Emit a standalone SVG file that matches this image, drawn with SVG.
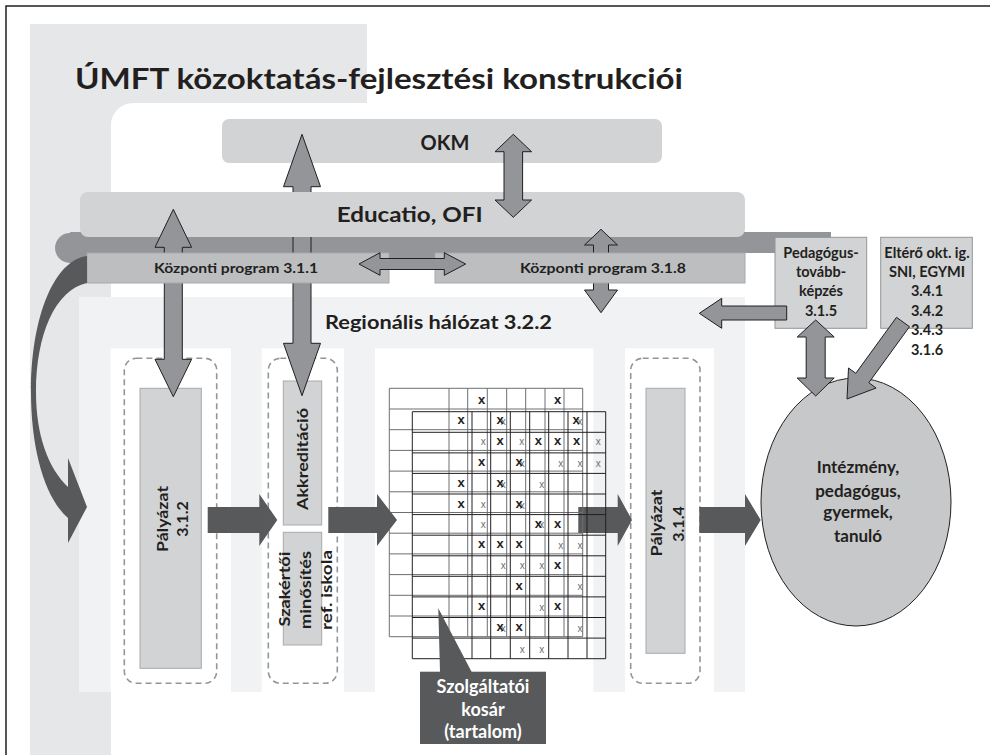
<svg xmlns="http://www.w3.org/2000/svg" width="990" height="755" viewBox="0 0 990 755">
<style>
.t{font-family:Lato,"Open Sans","DejaVu Sans",sans-serif;font-weight:bold;fill:#231f20}
.w{fill:#ffffff}
.ga{fill:#939598;stroke:#231f20;stroke-width:1;stroke-linejoin:miter}
.da{fill:#58595b}
.dash{fill:none;stroke:#939598;stroke-width:1.6;stroke-dasharray:6 4}
.inner{fill:#d1d3d4;stroke:#a7a9ac;stroke-width:1}
.kp{fill:#bcbec0;stroke:#a7a9ac;stroke-width:1}
.bx{fill:#d1d3d4;stroke:#939598;stroke-width:1}
.gb{fill:none;stroke:#6d6e71;stroke-width:1}
.gf{fill:none;stroke:#231f20;stroke-width:1}
.xb{font-family:"Liberation Sans",Arial,sans-serif;font-weight:bold;font-size:13px;fill:#231f20;text-anchor:middle}
.xt{font-family:"Liberation Sans",Arial,sans-serif;font-size:10px;fill:#6d6e71;text-anchor:middle}
</style>
<rect width="990" height="755" fill="#ffffff"/>
<g id="background">
<path d="M6,755V6H990" fill="none" stroke="#231f20" stroke-width="1.5"/>
<path d="M30,24H367V103H133A22,22 0 0 0 111,125V755H30Z" fill="#e6e7e8"/>
<rect x="79" y="297" width="666" height="395" fill="#f1f2f3"/>
<rect x="110.7" y="348.3" width="120.3" height="343.7" fill="#ffffff"/>
<rect x="261.7" y="348.3" width="82.3" height="343.7" fill="#ffffff"/>
<rect x="375" y="348.3" width="218.3" height="343.7" fill="#ffffff"/>
<rect x="625" y="348.3" width="89" height="343.7" fill="#ffffff"/>
</g>
<text class="t" x="75" y="89" font-size="29" textLength="608" lengthAdjust="spacingAndGlyphs">ÚMFT közoktatás-fejlesztési konstrukciói</text>
<g id="okm">
<rect x="222" y="119" width="440" height="44" rx="7" fill="#d1d3d4"/>
<text class="t" x="445" y="150" font-size="20" text-anchor="middle">OKM</text>
</g>
<g id="bar">
<rect x="70" y="232" width="675" height="38" fill="#939598"/>
<rect x="744" y="232" width="87" height="21" fill="#939598"/>
<circle cx="70" cy="248" r="15" fill="#939598"/>
</g>
<g id="palyazat312">
<rect class="dash" x="124.3" y="358.3" width="92.4" height="325" rx="12"/>
<rect class="inner" x="140" y="388.3" width="61.3" height="280"/>
<text class="t" font-size="16" text-anchor="middle" transform="translate(168.3,519) rotate(-90)" textLength="66" lengthAdjust="spacingAndGlyphs">Pályázat</text>
<text class="t" font-size="16" text-anchor="middle" transform="translate(188.3,519) rotate(-90)">3.1.2</text>
</g>
<g id="akkreditacio">
<rect class="dash" x="268.3" y="358.3" width="69" height="325" rx="12"/>
<rect class="inner" x="283.3" y="381" width="38.4" height="144"/>
<text class="t" font-size="16" text-anchor="middle" transform="translate(308.3,459) rotate(-90)" textLength="102" lengthAdjust="spacingAndGlyphs">Akkreditáció</text>
<rect class="inner" x="283.3" y="532.3" width="38.4" height="112.7"/>
<text class="t" font-size="15" text-anchor="middle" transform="translate(290,589) rotate(-90)" textLength="75" lengthAdjust="spacingAndGlyphs">Szakértői</text>
<text class="t" font-size="15" text-anchor="middle" transform="translate(311,590) rotate(-90)" textLength="78" lengthAdjust="spacingAndGlyphs">minősítés</text>
<text class="t" font-size="15" text-anchor="middle" transform="translate(332,590) rotate(-90)" textLength="80" lengthAdjust="spacingAndGlyphs">ref. iskola</text>
</g>
<g id="palyazat314">
<rect class="dash" x="630.7" y="358.3" width="69.3" height="325" rx="12"/>
<rect class="inner" x="646" y="388.3" width="39" height="265"/>
<text class="t" font-size="16" text-anchor="middle" transform="translate(661.7,523) rotate(-90)" textLength="67" lengthAdjust="spacingAndGlyphs">Pályázat</text>
<text class="t" font-size="16" text-anchor="middle" transform="translate(684,524) rotate(-90)">3.1.4</text>
</g>
<g id="intezmeny">
<ellipse cx="856" cy="502" rx="95" ry="124" fill="#c7c8ca" stroke="#231f20" stroke-width="1"/>
<text class="t" font-size="17" text-anchor="middle"><tspan x="858" y="473.3">Intézmény,</tspan><tspan x="858" y="496.7">pedagógus,</tspan><tspan x="858" y="518.3">gyermek,</tspan><tspan x="858" y="541.7">tanuló</tspan></text>
</g>
<g id="connectors-lower">
<polygon class="ga" points="302,134.3 320.5,186.7 311,186.7 311,343.3 320.5,343.3 302,395.7 283.5,343.3 293,343.3 293,186.7 283.5,186.7"/>
</g>
<g id="educatio">
<rect x="80" y="192" width="665" height="45" rx="8" fill="#d1d3d4"/>
<text class="t" x="409.7" y="222" font-size="21" text-anchor="middle" textLength="146" lengthAdjust="spacingAndGlyphs">Educatio, OFI</text>
</g>
<g id="connectors">
<polygon class="ga" points="173.3,209.3 191.6,247.3 182.3,247.3 182.3,359.3 191.6,359.3 173.3,396.7 155,359.3 164.3,359.3 164.3,247.3 155,247.3"/>
<polygon class="ga" points="513.3,134.3 531.6,151.7 522.6,151.7 522.6,200 531.6,200 513.3,217.3 495,200 504,200 504,151.7 495,151.7"/>
<polygon class="ga" points="601,229.3 617.5,245 608.5,245 608.5,290 617.5,290 601,312.7 584.5,290 593.5,290 593.5,245 584.5,245"/>
</g>
<g id="kp311">
<rect class="kp" x="87" y="253" width="302" height="30"/>
<text class="t" x="236" y="273" font-size="14" text-anchor="middle" textLength="164" lengthAdjust="spacingAndGlyphs">Központi program 3.1.1</text>
</g>
<g id="kp318">
<rect class="kp" x="435" y="253" width="310" height="30"/>
<text class="t" x="603" y="273" font-size="14" text-anchor="middle" textLength="166" lengthAdjust="spacingAndGlyphs">Központi program 3.1.8</text>
</g>
<text class="t" x="325" y="329" font-size="18" textLength="227" lengthAdjust="spacingAndGlyphs">Regionális hálózat 3.2.2</text>
<g id="pedagogus">
<rect class="bx" x="775" y="237.3" width="91.7" height="91"/>
<text class="t" font-size="14.5" text-anchor="middle"><tspan x="821" y="258.3">Pedagógus-</tspan><tspan x="821" y="276.7">tovább-</tspan><tspan x="821" y="295.5">képzés</tspan><tspan x="821" y="315.7">3.1.5</tspan></text>
</g>
<g id="eltero">
<rect class="bx" x="880.7" y="237.3" width="91.6" height="91"/>
<text class="t" font-size="14.5" text-anchor="middle"><tspan x="927" y="258.3">Eltérő okt. ig.</tspan><tspan x="927" y="276.7">SNI, EGYMI</tspan><tspan x="927" y="295.7">3.4.1</tspan><tspan x="927" y="315.7">3.4.2</tspan><tspan x="927" y="335">3.4.3</tspan><tspan x="927" y="355">3.1.6</tspan></text>
</g>
<g id="connectors-2">
<polygon class="ga" points="359,264 380,252.7 380,258.5 444.3,258.5 444.3,252.7 465.7,264 444.3,275.3 444.3,269.5 380,269.5 380,275.3"/>
<polygon class="ga" points="699.3,313.3 721.7,298.3 721.7,306 786.7,306 786.7,320 721.7,320 721.7,328.3"/>
<polygon class="ga" points="815.7,320 834.2,337 825.2,337 825.2,378 834.2,378 815.7,396 797.2,378 806.2,378 806.2,337 797.2,337"/>
<polygon class="ga" points="847,399 876.1,388 868.8,382.7 909.5,326.7 896.5,317.3 855.8,373.3 848.5,368"/>
<path class="da" d="M87,256C55,260 31,315 31,392C31,450 45,498 68,518L68,543L87,507L68,458L68,487C48,468 36,435 36,392C36,335 55,290 87,283Z"/>
<polygon class="da" points="207.7,507 259.3,507 259.3,494 277.3,520 259.3,546 259.3,533 207.7,533"/>
<polygon class="da" points="578.3,507 617.7,507 617.7,494 632,520 617.7,546 617.7,533 578.3,533"/>
<polygon class="da" points="699.3,507 745,507 745,494 760.7,520 745,546 745,533 699.3,533"/>
</g>
<g id="kosar-grid">
<path class="gb" d="M389.3,388.3V636.7M449,388.3V636.7M467.7,388.3V636.7M487.3,388.3V636.7M506.7,388.3V636.7M525.7,388.3V636.7M545,388.3V636.7M564,388.3V636.7M582.7,388.3V636.7M389.3,388.3H582.7M389.3,409H582.7M389.3,429.7H582.7M389.3,450.4H582.7M389.3,471.1H582.7M389.3,491.8H582.7M389.3,512.5H582.7M389.3,533.2H582.7M389.3,553.9H582.7M389.3,574.6H582.7M389.3,595.3H582.7M389.3,616H582.7M389.3,636.7H582.7"/>
<path class="gf" d="M412.3,411.7V658.7M472,411.7V658.7M490.7,411.7V658.7M510.3,411.7V658.7M529.7,411.7V658.7M548.7,411.7V658.7M568,411.7V658.7M587,411.7V658.7M605.7,411.7V658.7M412.3,411.7H605.7M412.3,432.3H605.7M412.3,452.9H605.7M412.3,473.4H605.7M412.3,494H605.7M412.3,514.6H605.7M412.3,535.2H605.7M412.3,555.8H605.7M412.3,576.3H605.7M412.3,596.9H605.7M412.3,617.5H605.7M412.3,638.1H605.7M412.3,658.7H605.7"/>
<g>
<text class="xt" x="503.3" y="425.4">x</text><text class="xt" x="580" y="425.4">x</text>
<text class="xt" x="483.3" y="445.4">x</text><text class="xt" x="521.7" y="445.4">x</text><text class="xt" x="598.3" y="445.4">x</text>
<text class="xt" x="522.3" y="466.7">x</text><text class="xt" x="560.7" y="466.7">x</text><text class="xt" x="580" y="466.7">x</text><text class="xt" x="598.3" y="466.7">x</text>
<text class="xt" x="503.3" y="487.7">x</text><text class="xt" x="541.7" y="487.7">x</text>
<text class="xt" x="483.3" y="508">x</text><text class="xt" x="522.3" y="508.7">x</text>
<text class="xt" x="483.3" y="528.4">x</text><text class="xt" x="541.7" y="528.4">x</text>
<text class="xt" x="560.7" y="548.7">x</text><text class="xt" x="580" y="548.7">x</text>
<text class="xt" x="503.3" y="569.4">x</text><text class="xt" x="522.3" y="569.4">x</text><text class="xt" x="541.7" y="569.4">x</text>
<text class="xt" x="580" y="590.4">x</text>
<text class="xt" x="541.7" y="611">x</text>
<text class="xt" x="503.3" y="631.7">x</text><text class="xt" x="580" y="631.7">x</text>
<text class="xt" x="522.3" y="652.7">x</text><text class="xt" x="541.7" y="652.7">x</text>
</g>
<g>
<text class="xb" x="481.7" y="403.5">x</text><text class="xb" x="557.7" y="403.5">x</text>
<text class="xb" x="461" y="424.2">x</text><text class="xb" x="500" y="424.2">x</text><text class="xb" x="576" y="424.2">x</text>
<text class="xb" x="500" y="444.5">x</text><text class="xb" x="538.3" y="444.5">x</text><text class="xb" x="557.7" y="444.5">x</text><text class="xb" x="576.7" y="444.5">x</text>
<text class="xb" x="481.7" y="465.8">x</text><text class="xb" x="519" y="465.8">x</text>
<text class="xb" x="461" y="486.8">x</text><text class="xb" x="500" y="486.8">x</text>
<text class="xb" x="461" y="507.8">x</text><text class="xb" x="519" y="507.8">x</text>
<text class="xb" x="538.3" y="527.5">x</text><text class="xb" x="557.7" y="527.5">x</text>
<text class="xb" x="481.7" y="547.5">x</text><text class="xb" x="500" y="547.5">x</text><text class="xb" x="519" y="547.5">x</text>
<text class="xb" x="557.7" y="568.5">x</text>
<text class="xb" x="519" y="589.5">x</text>
<text class="xb" x="481.7" y="610.2">x</text><text class="xb" x="557.7" y="610.2">x</text>
<text class="xb" x="500" y="630.8">x</text><text class="xb" x="519" y="630.8">x</text>
</g>
</g>
<polygon class="da" points="328.3,507 377,507 377,494 397,520 377,546 377,533 328.3,533"/>
<g id="kosar">
<polygon class="da" points="438.3,608.3 471.7,672 440,672"/>
<rect class="da" x="420" y="671.7" width="126" height="72.3"/>
<text class="t w" font-size="18" text-anchor="middle" style="fill:#ffffff"><tspan x="483" y="693">Szolgáltatói</tspan><tspan x="483" y="716">kosár</tspan><tspan x="483" y="738">(tartalom)</tspan></text>
</g>
</svg>
